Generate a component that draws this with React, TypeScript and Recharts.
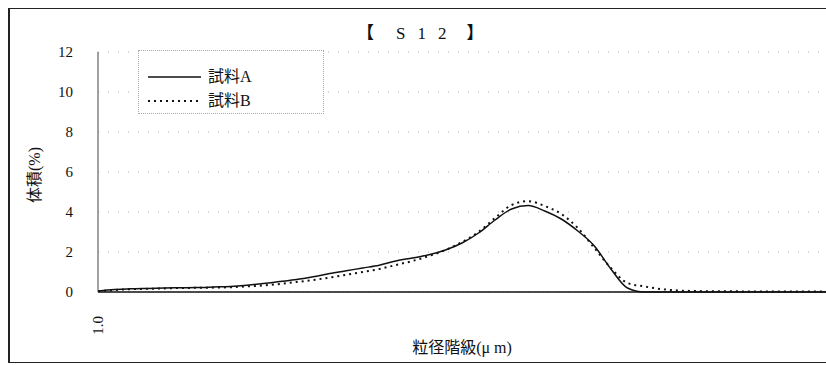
import React from "react";
import { LineChart, Line, XAxis, YAxis, CartesianGrid, Label } from "recharts";

// particle size classes (µm)
const sizes = [
  "1.0", "1.2", "1.4", "1.6", "1.8", "2.1", "2.4", "2.8", "3.2", "3.7",
  "4.2", "4.8", "5.5", "6.3", "7.2", "8.3", "9.5", "11", "13", "15",
  "17", "19", "22", "25", "29", "33", "38", "44", "50", "57",
  "66", "75", "86", "99", "113", "130", "149", "171", "196", "224",
  "257", "295", "338", "388", "445",
];

// volume (%)
const sampleA = [
  0.05, 0.12, 0.16, 0.18, 0.2, 0.21, 0.22, 0.25, 0.28, 0.34,
  0.42, 0.52, 0.62, 0.76, 0.92, 1.06, 1.2, 1.34, 1.55, 1.7,
  1.86, 2.1, 2.45, 2.95, 3.6, 4.15, 4.32, 4.05, 3.65, 3.05,
  2.3, 1.15, 0.2, 0, 0, 0, 0, 0, 0, 0,
  0, 0, 0, 0, 0,
];
const sampleB = [
  0.04, 0.1, 0.14, 0.16, 0.18, 0.2, 0.21, 0.22, 0.24, 0.28,
  0.33, 0.4, 0.5, 0.6, 0.72, 0.86, 1.0, 1.15, 1.35, 1.55,
  1.8, 2.1, 2.5, 3.0, 3.7, 4.35, 4.54, 4.3, 3.9, 3.2,
  2.2, 1.2, 0.45, 0.28, 0.15, 0.08, 0.05, 0.04, 0.04, 0.03,
  0.03, 0.03, 0.03, 0.03, 0.03,
];

const yTicks = [0, 2, 4, 6, 8, 10, 12];
const seriesNames = ["試料A", "試料B"];

const data = sizes.map((size, i) => ({ size, a: sampleA[i], b: sampleB[i] }));

const FONT = "'Liberation Serif', 'Noto Sans CJK JP', serif";

// legend box drawn over the plot (a Recharts <Legend> would shrink the plot)
const LegendBox = () => (
  <div
    style={{
      position: "absolute",
      left: 128,
      top: 41,
      width: 186,
      height: 64,
      border: "1px dotted #aaa",
      boxSizing: "border-box",
      background: "#fff",
    }}
  >
    <svg width={184} height={62} style={{ display: "block" }}>
      <line x1={9} y1={26} x2={62} y2={26} stroke="#111" strokeWidth={1.5} />
      <text x={69} y={31} fontFamily={FONT} fontSize={16} fill="#111">
        {seriesNames[0]}
      </text>
      <line x1={9} y1={50} x2={62} y2={50} stroke="#111" strokeWidth={2} strokeDasharray="2 4" />
      <text x={69} y={55} fontFamily={FONT} fontSize={16} fill="#111">
        {seriesNames[1]}
      </text>
    </svg>
  </div>
);

const XTick = ({ x, y, payload }) => (
  <text
    x={x}
    y={y + 22}
    dy="0.35em"
    transform={`rotate(-90 ${x} ${y + 22})`}
    textAnchor="end"
    fontFamily={FONT}
    fontSize={15}
    fill="#111"
  >
    {payload.value}
  </text>
);

export default function App() {
  return (
    <div
      style={{
        position: "absolute",
        left: 8,
        top: 8,
        width: 818,
        height: 355,
        borderTop: "1px solid #222",
        borderLeft: "2px solid #222",
        borderBottom: "1px solid #222",
        boxSizing: "border-box",
        background: "#fff",
      }}
    >
      <div
        style={{
          position: "absolute",
          left: 347,
          top: 10,
          fontFamily: FONT,
          fontSize: 17,
          color: "#111",
          whiteSpace: "pre",
        }}
      >
        <span style={{ fontWeight: "bold" }}>【</span>
        <span style={{ letterSpacing: 12, marginLeft: 22 }}>S12</span>
        <span style={{ fontWeight: "bold", marginLeft: 8 }}>】</span>
      </div>
      <LineChart
        width={816}
        height={353}
        data={data}
        margin={{ top: 43, right: 0, left: 0, bottom: 0 }}
        style={{ fontFamily: FONT }}
      >
        <CartesianGrid
          horizontal
          vertical={false}
          stroke="#aaa"
          strokeDasharray="1 9"
        />
        <XAxis
          dataKey="size"
          ticks={[sizes[0]]}
          tick={XTick}
          tickLine={false}
          tickSize={0}
          height={70}
          stroke="#111"
          strokeWidth={1.5}
        >
          <Label
            content={() => (
              <text x={452} y={344} textAnchor="middle" fontFamily={FONT} fontSize={16} fill="#111">
                粒径階級(μ m)
              </text>
            )}
          />
        </XAxis>
        <YAxis
          domain={[0, 12]}
          ticks={yTicks}
          tickLine={false}
          tickSize={0}
          tickMargin={25}
          width={88}
          stroke="#444"
          tick={{ fontFamily: FONT, fontSize: 15, fill: "#111" }}
        >
          <Label
            content={() => (
              <text
                x={30}
                y={166}
                transform="rotate(-90 30 166)"
                textAnchor="middle"
                fontFamily={FONT}
                fontSize={16}
                fill="#111"
              >
                体積(%)
              </text>
            )}
          />
        </YAxis>
        <Line
          type="monotone"
          dataKey="a"
          name={seriesNames[0]}
          stroke="#111"
          strokeWidth={1.5}
          dot={false}
          isAnimationActive={false}
        />
        <Line
          type="monotone"
          dataKey="b"
          name={seriesNames[1]}
          stroke="#111"
          strokeWidth={2}
          strokeDasharray="2 4"
          dot={false}
          isAnimationActive={false}
        />
      </LineChart>
      <LegendBox />
    </div>
  );
}
